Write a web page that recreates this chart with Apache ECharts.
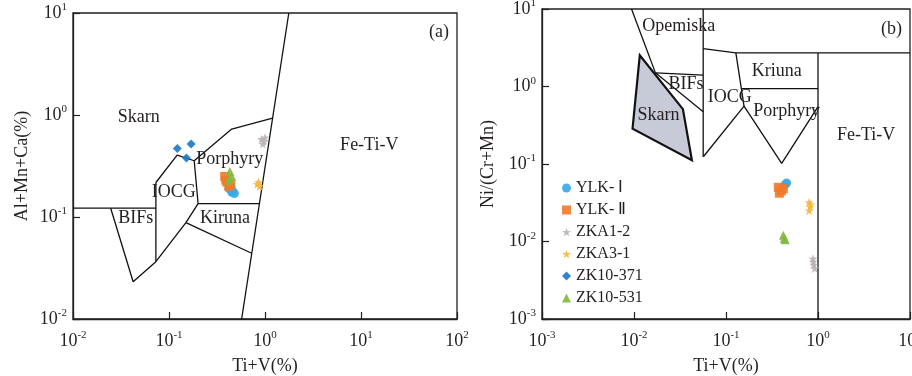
<!DOCTYPE html>
<html>
<head>
<meta charset="utf-8">
<script src="https://cdn.jsdelivr.net/npm/echarts@6/dist/echarts.min.js"></script>
<style>
  html, body { margin: 0; padding: 0; background: #fff; }
  #main { width: 912px; height: 376px; }
</style>
</head>
<body>
<div id="main"></div>
<script>
// ---- field boundaries, panel (a): Ti+V vs Al+Mn+Ca ----
var aFeTiV = [[1.77, 10], [0.571, 0.01]];
var aBifsTop = [[0.01, 0.122], [0.073, 0.122]];
var aBifs = [[0.0247, 0.122], [0.0423, 0.0232], [0.073, 0.0365]];
var aIocgLeft = [[0.073, 0.218], [0.073, 0.0365]];
var aIocg = [[0.073, 0.218], [0.1216, 0.404], [0.183, 0.356], [0.201, 0.135], [0.150, 0.0881], [0.073, 0.0365]];
var aPorphyry = [[0.183, 0.356], [0.45, 0.728], [1.20, 0.933]];
var aKirunaTop = [[0.201, 0.135], [0.873, 0.135]];
var aKirunaBase = [[0.150, 0.0881], [0.726, 0.0441]];

// ---- field boundaries, panel (b): Ti+V vs Ni/(Cr+Mn) ----
var bOpemiska = [[0.0094, 10], [0.0171, 1.50]];
var bBifsTop = [[0.0171, 1.50], [0.0565, 1.40]];
var bBifsBase = [[0.0171, 1.50], [0.0565, 0.471]];
var bIocgLeft = [[0.0565, 10], [0.0565, 0.124]];
var bTop = [[0.0565, 3.09], [0.128, 2.71], [10, 2.71]];
var bKriunaLeft = [[0.128, 2.71], [0.157, 0.557]];
var bKriunaBase = [[0.147, 0.94], [1.0, 0.94]];
var bIocgBase = [[0.0567, 0.124], [0.157, 0.557]];
var bPorphyry = [[0.157, 0.557], [0.403, 0.102], [1.0, 0.55]];
var bFeTiV = [[1.0, 2.71], [1.0, 0.001]];
var bSkarn = [[0.01156, 2.53], [0.00964, 0.286], [0.0426, 0.112], [0.034, 0.51]];

// ---- field names ----
var aFieldNames = [
  { name: 'Skarn', value: [0.0484, 0.94] },
  { name: 'Fe-Ti-V', value: [12.2, 0.51] },
  { name: 'Porphyry', value: [0.43, 0.372] },
  { name: 'IOCG', value: [0.112, 0.176] },
  { name: 'BIFs', value: [0.045, 0.098] },
  { name: 'Kiruna', value: [0.383, 0.098] },
  { name: '(a)', value: [65, 6.5] }
];
var bFieldNames = [
  { name: 'Opemiska', value: [0.0307, 5.98] },
  { name: 'Kriuna', value: [0.356, 1.59] },
  { name: 'BIFs', value: [0.0367, 1.07] },
  { name: 'IOCG', value: [0.110, 0.734] },
  { name: 'Skarn', value: [0.0185, 0.427] },
  { name: 'Porphyry', value: [0.456, 0.481] },
  { name: 'Fe-Ti-V', value: [3.33, 0.236] },
  { name: '(b)', value: [6.3, 5.4] }
];

// ---- samples ----
var sampleNames = ['YLK- Ⅰ', 'YLK- Ⅱ', 'ZKA1-2', 'ZKA3-1', 'ZK10-371', 'ZK10-531'];
var aYLK1 = [[0.42, 0.19], [0.46, 0.18], [0.48, 0.17], [0.44, 0.20], [0.45, 0.175]];
var aYLK2 = [[0.38, 0.25], [0.40, 0.22], [0.42, 0.20], [0.39, 0.23], [0.44, 0.21]];
var aZKA12 = [[0.92, 0.58], [0.97, 0.55], [1.0, 0.60], [0.95, 0.52]];
var aZKA31 = [[0.83, 0.21], [0.88, 0.20], [0.86, 0.22]];
var aZK10371 = [[0.122, 0.47], [0.17, 0.52], [0.152, 0.378]];
var aZK10531 = [[0.43, 0.28], [0.45, 0.25], [0.42, 0.23]];

var bYLK1 = [[0.456, 0.057], [0.44, 0.054]];
var bYLK2 = [[0.37, 0.05], [0.40, 0.045], [0.42, 0.048], [0.38, 0.042]];
var bZKA12 = [[0.88, 0.006], [0.90, 0.005], [0.92, 0.0045], [0.89, 0.0055]];
var bZKA31 = [[0.80, 0.032], [0.82, 0.028], [0.80, 0.025], [0.83, 0.030]];
var bZK10371 = [];
var bZK10531 = [[0.42, 0.012], [0.43, 0.011], [0.44, 0.0105]];

var colors = ['#3aa8e4', '#f07a2a', '#b9b3b3', '#f6b73c', '#1a78c8', '#82b93c'];
var star = 'path://M0,-10L2.5,-3L10,-3L4,1.5L6,9L0,4.5L-6,9L-4,1.5L-10,-3L-2.5,-3Z';
var symbols = ['circle', 'rect', star, star, 'diamond', 'triangle'];

var serif = 'Liberation Serif';
var ink = '#231f20';

function powLabel(v) {
  var e = Math.round(Math.log(v) / Math.LN10);
  return '{b|10}{s|' + e + '}';
}
var tickRich = {
  b: { fontSize: 18, fontFamily: serif, color: ink, lineHeight: 22 },
  s: { fontSize: 11, fontFamily: serif, color: ink, lineHeight: 22, padding: [0, 0, 11, 0] }
};

function logAxis(grid, min, max, name, gap, isY) {
  return {
    type: 'log', logBase: 10, gridIndex: grid, min: min, max: max, interval: 1,
    name: name, nameLocation: 'middle', nameGap: gap,
    nameTextStyle: { fontSize: 18, fontFamily: serif, color: ink },
    axisLine: { show: true, lineStyle: { color: ink, width: 1.3 } },
    axisTick: { show: true, inside: true, length: 7, lineStyle: { color: ink, width: 1.2 } },
    minorTick: { show: false },
    splitLine: { show: false },
    axisLabel: { formatter: powLabel, rich: tickRich, margin: isY ? 6 : 11, showMinLabel: true, showMaxLabel: true }
  };
}

function boundary(pts, g) {
  return {
    type: 'line', data: pts, xAxisIndex: g, yAxisIndex: g,
    symbol: 'none', silent: true, z: 3,
    lineStyle: { color: '#111', width: 1.3 }
  };
}

// field names drawn as text at data positions
function fieldText(list, g) {
  return {
    type: 'custom', xAxisIndex: g, yAxisIndex: g, silent: true, z: 6,
    data: list.map(function (d) { return d.value; }),
    renderItem: function (params, api) {
      var p = api.coord([api.value(0), api.value(1)]);
      return {
        type: 'text',
        x: p[0], y: p[1],
        style: {
          text: list[params.dataIndex].name,
          fontSize: 18, fontFamily: serif, fill: ink,
          align: 'center', verticalAlign: 'middle'
        }
      };
    }
  };
}

function samples(idx, data, g) {
  return {
    type: 'scatter', name: sampleNames[idx], data: data, xAxisIndex: g, yAxisIndex: g,
    symbol: symbols[idx], symbolSize: 9, z: 5,
    itemStyle: { color: colors[idx], opacity: 0.9 }
  };
}

var series = [];
[aFeTiV, aBifsTop, aBifs, aIocgLeft, aIocg, aPorphyry, aKirunaTop, aKirunaBase].forEach(function (p) {
  series.push(boundary(p, 0));
});
[bOpemiska, bBifsTop, bBifsBase, bIocgLeft, bTop, bKriunaLeft, bKriunaBase, bIocgBase, bPorphyry, bFeTiV].forEach(function (p) {
  series.push(boundary(p, 1));
});

// shaded skarn polygon in (b)
series.push({
  type: 'custom', xAxisIndex: 1, yAxisIndex: 1, silent: true, z: 2,
  data: [0],
  renderItem: function (params, api) {
    var pts = bSkarn.map(function (p) { return api.coord(p); });
    return {
      type: 'polygon',
      shape: { points: pts },
      style: { fill: '#c6cbd7', stroke: '#111', lineWidth: 2.2 }
    };
  }
});

series.push(fieldText(aFieldNames, 0));
series.push(fieldText(bFieldNames, 1));

var aSets = [aYLK1, aYLK2, aZKA12, aZKA31, aZK10371, aZK10531];
var bSets = [bYLK1, bYLK2, bZKA12, bZKA31, bZK10371, bZK10531];
aSets.forEach(function (d, i) { series.push(samples(i, d, 0)); });
bSets.forEach(function (d, i) { series.push(samples(i, d, 1)); });

var chart = echarts.init(document.getElementById('main'));
chart.setOption({
  animation: false,
  backgroundColor: '#fff',
  grid: [
    { left: 73, top: 13, width: 384, height: 306, show: true, borderColor: ink, borderWidth: 1.3, outerBoundsMode: 'none' },
    { left: 542, top: 9, width: 368, height: 310, show: true, borderColor: ink, borderWidth: 1.3, outerBoundsMode: 'none' }
  ],
  xAxis: [
    logAxis(0, 0.01, 100, 'Ti+V(%)', 36, false),
    logAxis(1, 0.001, 10, 'Ti+V(%)', 36, false)
  ],
  yAxis: [
    logAxis(0, 0.01, 10, 'Al+Mn+Ca(%)', 42, true),
    logAxis(1, 0.001, 10, 'Ni/(Cr+Mn)', 45, true)
  ],
  legend: {
    data: sampleNames,
    orient: 'vertical', left: 557, top: 175,
    itemWidth: 9, itemHeight: 9, itemGap: 6,
    textStyle: { fontSize: 16, fontFamily: serif, color: ink }
  },
  series: series
});
</script>
</body>
</html>
